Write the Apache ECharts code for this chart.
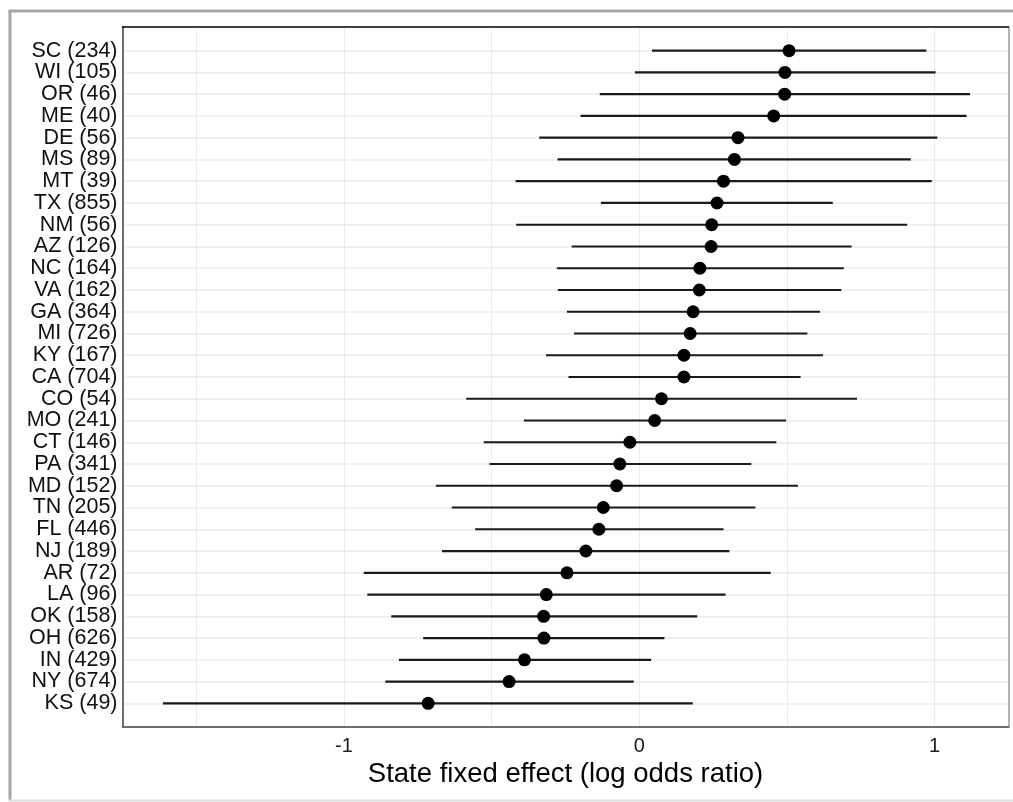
<!DOCTYPE html>
<html>
<head>
<meta charset="utf-8">
<script src="https://cdn.jsdelivr.net/npm/echarts@6/dist/echarts.min.js"></script>
<style>
  html, body { margin: 0; padding: 0; background: #fff; }
  #chart { width: 1013px; height: 802px; }
</style>
</head>
<body>
<div id="chart"></div>
<script>
const states = ['SC', 'WI', 'OR', 'ME', 'DE', 'MS', 'MT', 'TX', 'NM', 'AZ', 'NC', 'VA', 'GA', 'MI', 'KY', 'CA',
  'CO', 'MO', 'CT', 'PA', 'MD', 'TN', 'FL', 'NJ', 'AR', 'LA', 'OK', 'OH', 'IN', 'NY', 'KS'];
const counts = [234, 105, 46, 40, 56, 89, 39, 855, 56, 126, 164, 162, 364, 726, 167, 704,
  54, 241, 146, 341, 152, 205, 446, 189, 72, 96, 158, 626, 429, 674, 49];
const estimate = [0.507, 0.493, 0.492, 0.455, 0.334, 0.322, 0.285, 0.263, 0.245, 0.243, 0.205, 0.203, 0.182, 0.172, 0.151, 0.151,
  0.075, 0.052, -0.032, -0.066, -0.077, -0.122, -0.137, -0.181, -0.245, -0.315, -0.324, -0.323, -0.389, -0.441, -0.715];
const lower = [0.043, -0.015, -0.134, -0.199, -0.339, -0.277, -0.419, -0.130, -0.417, -0.229, -0.279, -0.276, -0.245, -0.221, -0.316, -0.240,
  -0.586, -0.391, -0.527, -0.507, -0.689, -0.635, -0.556, -0.668, -0.933, -0.921, -0.840, -0.732, -0.814, -0.860, -1.613];
const upper = [0.972, 1.003, 1.120, 1.108, 1.009, 0.919, 0.990, 0.655, 0.907, 0.719, 0.692, 0.684, 0.612, 0.569, 0.622, 0.546,
  0.737, 0.497, 0.464, 0.379, 0.537, 0.393, 0.285, 0.305, 0.445, 0.292, 0.196, 0.085, 0.040, -0.019, 0.181];

const labels = states.map((s, i) => s + ' (' + counts[i] + ')');
const xMin = -1.75, xMax = 1.25;
const font = 'Liberation Sans, Arial, sans-serif';

const chart = echarts.init(document.getElementById('chart'));

chart.setOption({
  backgroundColor: '#fff',
  animation: false,
  graphic: [
    { type: 'line', shape: { x1: 10, y1: 11, x2: 10, y2: 800 }, style: { stroke: '#a6a6a6', lineWidth: 3 } },
    { type: 'line', shape: { x1: 8.5, y1: 11, x2: 1013, y2: 11 }, style: { stroke: '#a6a6a6', lineWidth: 3 } },
    { type: 'line', shape: { x1: 8.5, y1: 800.5, x2: 1013, y2: 800.5 }, style: { stroke: '#dcdcdc', lineWidth: 2 } }
  ],
  grid: [
    // panel frame, vertical grid lines, x axis
    { left: 122.5, right: 4.5, top: 27, bottom: 75 },
    // rows
    { left: 122.5, right: 4.5, top: 50.7, bottom: 98.7 }
  ],
  xAxis: [
    {
      gridIndex: 0, type: 'value', min: xMin, max: xMax, interval: 0.25,
      name: 'State fixed effect (log odds ratio)', nameLocation: 'middle', nameGap: 30,
      nameTextStyle: { fontFamily: font, fontSize: 27.5, color: '#000' },
      axisLine: { show: true, onZero: false, lineStyle: { color: '#6e6e6e', width: 2 } },
      axisTick: { show: false },
      axisLabel: {
        margin: 9, fontFamily: font, fontSize: 20, color: '#1a1a1a',
        formatter: v => (Math.abs(v - Math.round(v)) < 1e-9 ? String(Math.round(v)) : '')
      },
      splitLine: { show: true, lineStyle: { color: ['rgba(0,0,0,0)', '#ebebeb'], width: 1 } }
    },
    {
      gridIndex: 0, type: 'value', position: 'top', min: xMin, max: xMax,
      axisLine: { show: true, onZero: false, lineStyle: { color: '#000', width: 1.5 } },
      axisTick: { show: false }, axisLabel: { show: false }, splitLine: { show: false }
    },
    {
      gridIndex: 1, type: 'value', min: xMin, max: xMax, show: false
    }
  ],
  yAxis: [
    {
      gridIndex: 0, type: 'value', min: 0, max: 1,
      axisLine: { show: true, onZero: false, lineStyle: { color: '#6e6e6e', width: 2 } },
      axisTick: { show: false }, axisLabel: { show: false }, splitLine: { show: false }
    },
    {
      gridIndex: 0, type: 'value', position: 'right', min: 0, max: 1,
      axisLine: { show: true, onZero: false, lineStyle: { color: '#9a9a9a', width: 1.5 } },
      axisTick: { show: false }, axisLabel: { show: false }, splitLine: { show: false }
    },
    {
      gridIndex: 1, type: 'category', data: labels, inverse: true, boundaryGap: false,
      axisLine: { show: false }, axisTick: { show: false },
      axisLabel: { interval: 0, margin: 5, fontFamily: font, fontSize: 21.5, color: '#111' },
      splitLine: { show: true, interval: 0, lineStyle: { color: '#ebebeb', width: 1.5 } }
    }
  ],
  series: [
    {
      type: 'custom',
      xAxisIndex: 2, yAxisIndex: 2,
      data: states.map((s, i) => [lower[i], upper[i], i]),
      encode: { x: [0, 1], y: 2 },
      renderItem: (params, api) => {
        const a = api.coord([api.value(0), api.value(2)]);
        const b = api.coord([api.value(1), api.value(2)]);
        return {
          type: 'line',
          shape: { x1: a[0], y1: a[1], x2: b[0], y2: b[1] },
          style: { stroke: '#1a1a1a', lineWidth: 2.2 }
        };
      },
      z: 3
    },
    {
      type: 'scatter',
      xAxisIndex: 2, yAxisIndex: 2,
      data: estimate.map((v, i) => [v, i]),
      symbol: 'circle', symbolSize: 13,
      itemStyle: { color: '#000', opacity: 1 },
      z: 4
    }
  ]
});
</script>
</body>
</html>
